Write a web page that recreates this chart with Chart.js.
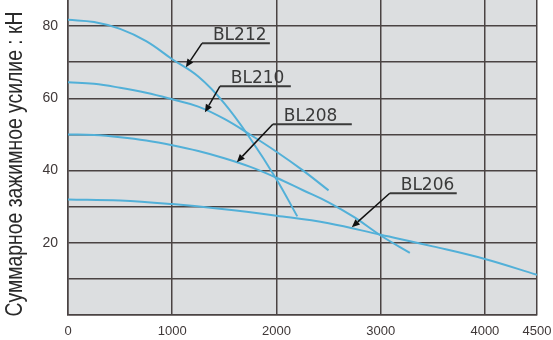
<!DOCTYPE html>
<html>
<head>
<meta charset="utf-8">
<title>BL clamping force</title>
<script src="https://cdn.jsdelivr.net/npm/chart.js@4"></script>
<style>
  html, body { margin: 0; padding: 0; background: #fff; }
  #wrap { width: 553px; height: 340px; }
</style>
</head>
<body>
<div id="wrap"><canvas id="chart" width="553" height="340"></canvas></div>
<script>
// Axes
const xTicks = [0, 1000, 2000, 3000, 4000, 4500];
const yTicks = [0, 10, 20, 30, 40, 50, 60, 70, 80];
const yLabels = [20, 40, 60, 80];
const yTitle = 'Суммарное зажимное усилие : кН';

// Courbes
const xBL212 = [0, 250, 500, 750, 1000, 1250, 1500, 1750, 2000, 2200];
const yBL212 = [81.7, 81.1, 79.2, 75.8, 70.8, 66.0, 58.6, 48.8, 37.6, 27.3];

const xBL210 = [0, 250, 500, 750, 1000, 1250, 1500, 1750, 2000, 2250, 2500];
const yBL210 = [64.4, 64.0, 62.9, 61.5, 59.7, 57.7, 54.3, 49.9, 45.2, 40.1, 34.5];

const xBL208 = [0, 250, 500, 750, 1000, 1250, 1500, 1750, 2000, 2250, 2500, 2750, 3000, 3280];
const yBL208 = [50.0, 49.8, 49.2, 48.3, 47.0, 45.4, 43.4, 41.0, 38.0, 34.6, 31.2, 27.0, 22.0, 17.2];

const xBL206 = [0, 500, 1000, 1500, 2000, 2500, 3000, 3500, 4000, 4500];
const yBL206 = [32.0, 31.7, 30.7, 29.3, 27.5, 25.4, 22.2, 19.0, 15.5, 11.1];

// Étiquettes avec flèche (unités des données)
const callouts = [
  { text: 'BL212', x0: 1285, x1: 1937, y: 75.2, tipX: 1131, tipY: 68.6 },
  { text: 'BL210', x0: 1457, x1: 2138, y: 63.3, tipX: 1314, tipY: 56.1 },
  { text: 'BL208', x0: 1965, x1: 2723, y: 52.8, tipX: 1620, tipY: 42.3 },
  { text: 'BL206', x0: 3087, x1: 3730, y: 33.7, tipX: 2723, tipY: 24.3 }
];

const lineColor = 'rgb(82, 176, 216)';
const gridColor = '#4a4343';

function toPoints(xs, ys) {
  return xs.map((x, i) => ({ x: x, y: ys[i] }));
}

function makeSet(label, xs, ys) {
  return {
    label: label,
    data: toPoints(xs, ys),
    borderColor: lineColor,
    borderWidth: 2,
    pointRadius: 0,
    fill: false,
    tension: 0.4
  };
}

// Fond gris de la zone de tracé
const areaBackground = {
  id: 'areaBackground',
  beforeDraw(chart) {
    const { ctx, chartArea } = chart;
    ctx.save();
    ctx.fillStyle = '#dcdee0';
    ctx.fillRect(chartArea.left, chartArea.top, chartArea.width, chartArea.height);
    ctx.restore();
  }
};

// Titre vertical, police étroite (compression horizontale)
const narrowTitle = {
  id: 'narrowTitle',
  afterDraw(chart) {
    const { ctx } = chart;
    ctx.save();
    ctx.font = '24px "Liberation Sans", Arial, sans-serif';
    ctx.fillStyle = '#2a2a2a';
    ctx.textAlign = 'center';
    ctx.textBaseline = 'middle';
    const w = ctx.measureText(yTitle).width;
    const target = 305;
    ctx.translate(15, 164);
    ctx.rotate(-Math.PI / 2);
    ctx.scale(target / w, 1);
    ctx.fillText(yTitle, 0, 0);
    ctx.restore();
  }
};

// Étiquettes soulignées + flèches
const calloutPlugin = {
  id: 'callouts',
  afterDatasetsDraw(chart) {
    const { ctx } = chart;
    const xs = chart.scales.x;
    const ys = chart.scales.y;
    ctx.save();
    callouts.forEach(c => {
      const x0 = xs.getPixelForValue(c.x0);
      const x1 = xs.getPixelForValue(c.x1);
      const y = ys.getPixelForValue(c.y);
      const tx = xs.getPixelForValue(c.tipX);
      const ty = ys.getPixelForValue(c.tipY);

      ctx.fillStyle = '#3a3a3a';
      ctx.font = '17px "DejaVu Sans", sans-serif';
      ctx.textBaseline = 'alphabetic';
      ctx.textAlign = 'left';
      ctx.fillText(c.text, x0 + 11, y - 3);

      ctx.strokeStyle = '#3a3a3a';
      ctx.lineWidth = 2;
      ctx.beginPath();
      ctx.moveTo(x0, y);
      ctx.lineTo(x1, y);
      ctx.stroke();

      // flèche
      const ang = Math.atan2(ty - y, tx - x0);
      const len = 8;
      const bx = tx - len * Math.cos(ang);
      const by = ty - len * Math.sin(ang);
      ctx.strokeStyle = '#111';
      ctx.lineWidth = 1.5;
      ctx.beginPath();
      ctx.moveTo(x0, y);
      ctx.lineTo(bx, by);
      ctx.stroke();
      ctx.fillStyle = '#111';
      ctx.beginPath();
      ctx.moveTo(tx, ty);
      ctx.lineTo(bx + 3.5 * Math.sin(ang), by - 3.5 * Math.cos(ang));
      ctx.lineTo(bx - 3.5 * Math.sin(ang), by + 3.5 * Math.cos(ang));
      ctx.closePath();
      ctx.fill();
    });
    ctx.restore();
  }
};

const ctx = document.getElementById('chart').getContext('2d');
new Chart(ctx, {
  type: 'line',
  data: {
    datasets: [
      makeSet('BL212', xBL212, yBL212),
      makeSet('BL210', xBL210, yBL210),
      makeSet('BL208', xBL208, yBL208),
      makeSet('BL206', xBL206, yBL206)
    ]
  },
  options: {
    responsive: false,
    animation: false,
    layout: { padding: { top: 0, right: 16, bottom: 0, left: 0 } },
    plugins: {
      legend: { display: false },
      tooltip: { enabled: false }
    },
    scales: {
      x: {
        type: 'linear',
        min: 0,
        max: 4500,
        afterBuildTicks: scale => { scale.ticks = xTicks.map(v => ({ value: v })); },
        afterFit: scale => {
          scale.height = 25;
          scale.paddingLeft = 0;
          scale.paddingRight = 0;
        },
        grid: { color: gridColor, lineWidth: 1.5, drawTicks: false },
        border: { color: gridColor, width: 1.5 },
        ticks: {
          padding: 9,
          color: '#3f3838',
          font: { family: '"Liberation Sans", Arial, sans-serif', size: 13 },
          maxRotation: 0,
          callback: v => String(v)
        }
      },
      y: {
        type: 'linear',
        min: 0,
        max: 87.2,
        afterBuildTicks: scale => { scale.ticks = yTicks.map(v => ({ value: v })); },
        afterFit: scale => {
          scale.width = 68;
          scale.paddingTop = 0;
          scale.paddingBottom = 0;
        },
        grid: { color: gridColor, lineWidth: 1.5, drawTicks: false },
        border: { color: gridColor, width: 1.5 },
        ticks: {
          padding: 10,
          color: '#3f3838',
          font: { family: '"Liberation Sans", Arial, sans-serif', size: 14 },
          callback: v => (yLabels.includes(v) ? String(v) : '')
        }
      }
    }
  },
  plugins: [areaBackground, narrowTitle, calloutPlugin]
});
</script>
</body>
</html>
